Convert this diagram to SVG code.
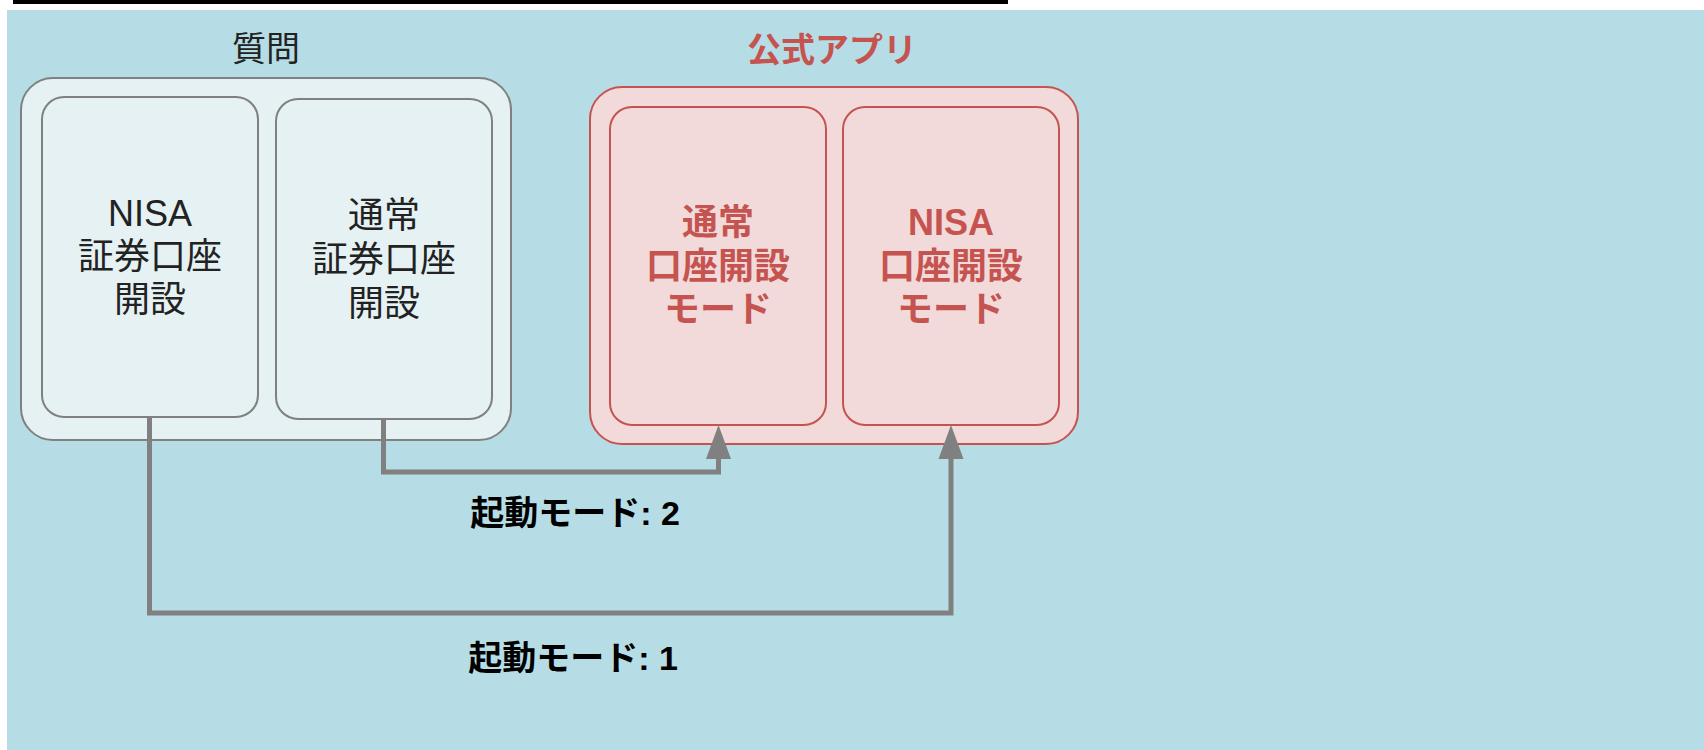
<svg xmlns="http://www.w3.org/2000/svg" width="1704" height="750" viewBox="0 0 1704 750">
<style>
.t{font-family:"Liberation Sans","Noto Sans CJK JP",sans-serif;text-anchor:middle}
.gt{fill:#222;font-size:36px}
.rt{fill:#c55450;font-size:36px;font-weight:bold}
.gbox{fill:#e5f1f2;stroke:#808080;stroke-width:2}
.rbox{fill:#f2dada;stroke:#c55450;stroke-width:2}
.conn{fill:none;stroke:#808080;stroke-width:5;stroke-linejoin:miter}
.lbl{fill:#000;font-size:34px;font-weight:bold}
</style>
<defs>
<marker id="ah" markerUnits="userSpaceOnUse" markerWidth="26" markerHeight="36" viewBox="0 0 26 36" refX="13" refY="0" orient="auto-start-reverse">
</marker>
</defs>
<rect x="0" y="0" width="1704" height="750" fill="#ffffff"/>
<rect x="13" y="0" width="995" height="4" fill="#000"/>
<rect x="7" y="10" width="1697" height="740" fill="#b6dce5"/>

<g id="group-question">
<rect class="gbox" x="21" y="78" width="490" height="362" rx="32"/>
<text class="t" x="266" y="61" style="font-size:34px;fill:#222">質問</text>
</g>
<g id="node-nisa-q">
<rect class="gbox" x="42" y="97" width="216" height="320" rx="22"/>
<text class="t gt" x="150" y="226">NISA</text>
<text class="t gt" x="150" y="269">証券口座</text>
<text class="t gt" x="150" y="312">開設</text>
</g>
<g id="node-normal-q">
<rect class="gbox" x="276" y="99" width="216" height="320" rx="22"/>
<text class="t gt" x="384" y="228">通常</text>
<text class="t gt" x="384" y="272">証券口座</text>
<text class="t gt" x="384" y="316">開設</text>
</g>

<g id="group-app">
<rect class="rbox" x="590" y="87" width="488" height="357" rx="32"/>
<text class="t" x="832" y="62" style="font-size:34px;font-weight:bold;fill:#c55450">公式アプリ</text>
</g>
<g id="node-normal-mode">
<rect class="rbox" x="610" y="107" width="216" height="318" rx="22"/>
<text class="t rt" x="718" y="235">通常</text>
<text class="t rt" x="718" y="279">口座開設</text>
<text class="t rt" x="718" y="322">モード</text>
</g>
<g id="node-nisa-mode">
<rect class="rbox" x="843" y="107" width="216" height="318" rx="22"/>
<text class="t rt" x="951" y="235">NISA</text>
<text class="t rt" x="951" y="279">口座開設</text>
<text class="t rt" x="951" y="322">モード</text>
</g>

<g id="connectors">
<path class="conn" d="M383.5 419 V472 H718.5 V456"/>
<polygon points="718.5,425 731,459 706,459" fill="#808080"/>
<path class="conn" d="M149.5 417 V613 H951 V456"/>
<polygon points="951,425 963.5,459 938.5,459" fill="#808080"/>
<text class="t lbl" x="575" y="525">起動モード: 2</text>
<text class="t lbl" x="573" y="670">起動モード: 1</text>
</g>
</svg>
